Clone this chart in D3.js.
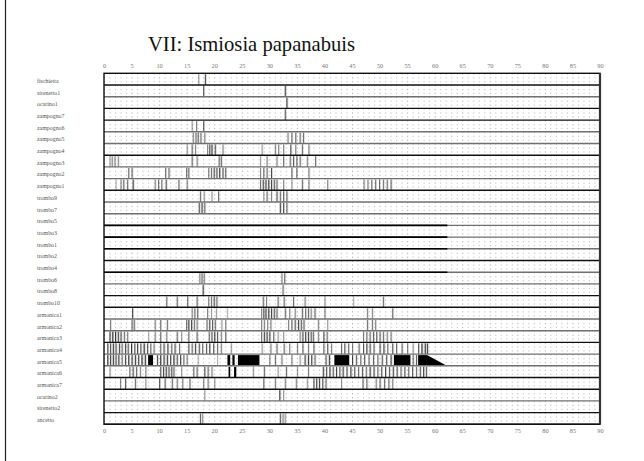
<!DOCTYPE html>
<html><head><meta charset="utf-8">
<script src="https://cdn.jsdelivr.net/npm/d3@7"></script>
<style>body{margin:0;background:#fff}svg{display:block}</style>
</head><body>
<svg id="c" width="644" height="461"></svg>
<script>
// ---------- data ----------
const title = "VII: Ismiosia papanabuis";
const tickLabels = [0,5,10,15,20,25,30,35,40,45,50,55,60,65,70,75,80,85,90];
const instruments = ["fischietta","sirenetto1","ocarino1","zampogno7","zampogno6","zampogno5","zampogno4","zampogno3","zampogno2","zampogno1","trombo9","trombo7","trombo5","trombo3","trombo1","trombo2","trombo4","trombo6","trombo8","trombo10","armonica1","armonica2","armonica3","armonica4","armonica5","armonica6","armonica7","ocarino2","sirenetto2","ancetto"];
// spikes: [time, level]
const fischietta = [[17.1,.4],[18.3,.8]];
const sirenetto1 = [[18.0,.7],[32.8,.8]];
const ocarino1 = [[33.1,.8]];
const zampogno7 = [[32.8,.7]];
const zampogno6 = [[15.9,.4],[16.7,.5],[18.0,.7]];
const zampogno5 = [[16.1,.5],[16.6,.6],[17.0,.6],[17.5,.6],[18.2,.5],[33.3,.5],[34.0,.6],[34.7,.6],[35.5,.6],[36.1,.6]];
const zampogno4 = [[15.0,.4],[15.9,.6],[16.5,.5],[18.7,.5],[19.1,.7],[19.5,.8],[20.1,.7],[21.5,.5],[28.6,.4],[31.0,.5],[31.6,.5],[32.5,.5],[33.8,.7],[34.7,.5],[35.9,.6],[37.1,.5]];
const zampogno3 = [[1.0,.4],[1.4,.5],[1.9,.5],[2.5,.5],[15.9,.6],[16.8,.5],[20.8,.6],[21.2,.6],[28.3,.4],[29.5,.5],[31.3,.5],[32.5,.6],[33.7,.6],[34.3,.7],[34.9,.6],[35.5,.6],[36.8,.5],[38.3,.6]];
const zampogno2 = [[4.4,.6],[5.0,.6],[11.1,.6],[11.7,.6],[14.9,.6],[15.3,.6],[18.9,.5],[19.4,.6],[19.9,.7],[20.4,.7],[20.9,.8],[21.5,.7],[22.0,.6],[28.3,.5],[28.9,.6],[29.5,.6],[30.3,.8],[34.0,.6],[34.9,.6],[37.1,.5]];
const zampogno1 = [[2.1,.3],[3.0,.5],[3.5,.6],[4.2,.6],[5.2,.8],[9.2,.5],[9.8,.6],[10.4,.6],[11.2,.7],[13.5,.6],[15.0,.5],[28.3,.6],[28.8,.8],[29.3,.8],[29.8,.8],[30.3,.8],[30.8,.7],[31.3,.6],[32.5,.5],[34.0,.4],[35.9,.6],[37.1,.5],[40.5,.5],[47.1,.5],[47.8,.5],[48.5,.6],[49.2,.6],[49.9,.6],[50.6,.6],[51.3,.6],[52.0,.6]];
const trombo9 = [[17.4,.6],[18.1,.4],[19.5,.4],[20.7,.6],[28.9,.4],[29.5,.6],[30.3,.5],[31.3,.7],[31.9,.6],[32.5,.7],[33.1,.6]];
const trombo7 = [[17.2,.7],[17.7,.8],[18.2,.6],[31.9,.8],[32.5,.8],[33.1,.6]];
const trombo5 = [], trombo3 = [], trombo1 = [], trombo2 = [], trombo4 = [];
const trombo6 = [[17.3,.5],[17.7,.6],[18.1,.5],[32.2,.5],[32.7,.6]];
const trombo8 = [[17.9,.8],[32.4,.6]];
const trombo10 = [[11.3,.6],[13.2,.6],[15.1,.6],[16.8,.6],[18.9,.5],[19.4,.6],[19.9,.7],[20.4,.6],[28.8,.6],[29.4,.5],[31.5,.6],[32.6,.6],[34.3,.6],[36.4,.5],[40.0,.4],[45.2,.3],[50.6,.6]];
const armonica1 = [[5.1,.8],[15.9,.5],[16.4,.6],[16.9,.6],[18.7,.5],[19.4,.4],[20.3,.4],[22.3,.3],[28.5,.5],[28.9,.7],[29.3,.8],[29.8,.8],[30.3,.8],[30.8,.7],[31.3,.6],[32.8,.6],[33.6,.5],[34.6,.5],[35.9,.6],[36.5,.6],[37.0,.6],[37.5,.5],[38.2,.6],[40.0,.5],[47.7,.5],[48.6,.5],[52.3,.6]];
const armonica2 = [[1.1,.5],[5.0,.6],[5.4,.6],[9.2,.5],[10.2,.6],[11.4,.6],[14.9,.6],[15.3,.8],[15.8,.8],[16.3,.6],[16.8,.5],[18.6,.6],[19.1,.7],[19.6,.7],[20.1,.6],[21.3,.4],[22.0,.5],[28.5,.5],[29.0,.5],[29.6,.5],[30.2,.5],[33.4,.5],[34.0,.6],[34.6,.7],[35.2,.8],[35.7,.7],[36.2,.6],[38.8,.5],[40.5,.4],[47.7,.6],[48.6,.6],[49.2,.5]];
const armonica3 = [[1.0,.8],[1.5,.9],[2.0,.9],[2.5,.8],[3.0,.7],[3.6,.6],[4.2,.5],[8.0,.3],[9.2,.5],[10.2,.6],[11.3,.5],[13.2,.6],[14.0,.4],[15.3,.6],[16.8,.6],[19.0,.6],[19.5,.7],[20.0,.8],[20.5,.7],[21.2,.5],[22.0,.6],[28.5,.6],[29.0,.8],[29.5,.8],[30.0,.7],[30.7,.6],[31.5,.4],[32.5,.4],[35.5,.5],[36.0,.7],[36.5,.8],[37.0,.8],[37.5,.7],[37.9,.6],[38.8,.5],[39.8,.7],[40.4,.6],[47.0,.5],[47.6,.6],[48.2,.6],[48.8,.7],[49.4,.7],[50.0,.6],[50.6,.6],[51.3,.5],[52.0,.5]];
const armonica4 = [[0.6,.8],[1.1,.7],[1.6,.9],[2.1,.7],[2.7,.8],[3.2,.6],[3.8,.8],[4.3,.7],[4.9,.9],[5.5,.7],[6.0,.8],[6.6,.7],[7.2,.9],[7.8,.7],[8.4,.6],[9.0,.5],[10.2,.6],[10.8,.7],[11.5,.8],[12.2,.6],[12.8,.7],[13.6,.6],[15.3,.7],[15.9,.6],[16.5,.8],[17.2,.7],[17.8,.6],[18.5,.7],[19.1,.8],[19.8,.7],[20.5,.6],[21.2,.5],[23.0,.4],[28.6,.4],[30.2,.5],[31.3,.6],[32.6,.6],[33.6,.5],[35.0,.5],[36.0,.6],[37.0,.5],[38.0,.6],[39.8,.6],[40.5,.7],[41.2,.5],[43.0,.6],[43.6,.7],[44.3,.6],[45.0,.5],[46.2,.6],[47.0,.7],[47.6,.8],[48.2,.7],[48.9,.6],[50.0,.7],[50.7,.8],[51.4,.6],[52.3,.7],[53.0,.6],[54.0,.6],[55.0,.5],[56.0,.4],[57.0,.7],[57.6,.9],[58.2,.9],[58.6,.8]];
const armonica5 = [[0.6,.9],[1.1,.8],[1.6,.9],[2.1,.7],[2.6,.8],[3.2,.6],[3.8,.8],[4.4,.9],[5.0,.8],[5.6,.9],[6.2,.8],[6.8,.9],[7.4,.9],[9.6,.8],[10.2,.9],[10.8,.8],[11.4,.9],[12.0,.8],[12.6,.9],[13.2,.7],[13.8,.8],[14.4,.6],[15.0,.5],[17.0,.3],[20.5,.3],[30.0,.5],[31.0,.6],[32.2,.5],[34.0,.5],[35.5,.4],[36.4,.8],[37.0,.9],[37.6,.8],[38.2,.6],[40.2,.7],[40.8,.9],[45.0,.8],[45.7,.7],[46.5,.6],[47.2,.7],[48.0,.6],[48.8,.7],[49.6,.6],[50.4,.7],[51.2,.7],[52.0,.8],[56.0,.6],[56.6,.7]];
const armonica6 = [[1.0,.4],[4.6,.6],[5.2,.7],[5.8,.6],[6.5,.5],[7.5,.5],[10.2,.7],[10.7,.8],[11.2,.8],[11.7,.7],[12.2,.7],[12.6,.6],[14.0,.4],[16.2,.6],[16.8,.6],[18.2,.7],[18.8,.6],[19.5,.5],[27.0,.4],[29.0,.6],[31.5,.4],[33.0,.6],[35.0,.4],[37.0,.5],[39.7,.8],[40.3,.7],[40.9,.8],[41.5,.7],[42.1,.8],[42.7,.7],[43.3,.8],[44.0,.7],[44.7,.8],[45.4,.7],[46.1,.6],[46.8,.7],[47.5,.6],[48.2,.8],[48.9,.7],[49.6,.6],[50.3,.7],[51.0,.8],[51.7,.7],[52.4,.8],[53.1,.7],[53.8,.6],[54.5,.7],[55.2,.6],[55.9,.7],[56.6,.6],[57.3,.7],[57.9,.8],[58.4,.7]];
const armonica7 = [[2.9,.5],[3.8,.7],[5.6,.6],[7.5,.4],[10.0,.7],[11.0,.6],[12.3,.6],[13.2,.5],[14.2,.5],[15.5,.6],[18.0,.5],[18.8,.5],[20.0,.4],[28.9,.6],[31.0,.5],[32.8,.5],[34.8,.5],[36.8,.4],[38.0,.7],[38.5,.8],[39.0,.8],[39.6,.7],[40.2,.6],[43.0,.4],[46.9,.6],[47.6,.6],[49.3,.5],[50.0,.6],[50.8,.6],[51.6,.6],[52.3,.5]];
const ocarino2 = [[18.2,.4],[31.8,.8],[32.5,.4]];
const sirenetto2 = [];
const ancetto = [[17.4,.7],[17.8,.4],[31.9,.7],[32.4,.5],[32.8,.4]];
// sustained (solid) blocks: [instrument, start, end]
const blocks = [["armonica5",8.0,8.9],["armonica5",22.4,22.9],["armonica5",23.3,23.7],["armonica5",24.3,28.2],["armonica5",41.8,44.5],["armonica5",52.6,55.6],["armonica5",57.0,58.6],["armonica6",22.6,22.9],["armonica6",23.6,24.0]];
// decaying tail: [instrument, start, end]
const tails = [["armonica5",58.6,62.2]];
// drone (black baseline) segments: [instrument, start, end]
const drones = [["trombo5",0,62.3],["trombo3",0,62.3],["trombo1",0,62.3],["trombo4",0,62.3]];
// row separator tone: k = dark, g = grey
const sepTone = ["k","g","k","k","g","g","k","g","g","k","g","g","g","g","g","k","g","g","k","k","g","g","k","g","g","k","k","g","k","k"];

const spikes = {fischietta,sirenetto1,ocarino1,zampogno7,zampogno6,zampogno5,zampogno4,zampogno3,zampogno2,zampogno1,trombo9,trombo7,trombo5,trombo3,trombo1,trombo2,trombo4,trombo6,trombo8,trombo10,armonica1,armonica2,armonica3,armonica4,armonica5,armonica6,armonica7,ocarino2,sirenetto2,ancetto};

// ---------- drawing ----------
const svg = d3.select("#c");
const serif = "Liberation Serif, DejaVu Serif, serif";
const x = d3.scaleLinear().domain([0,90]).range([104,600]);
const y = d3.scaleBand().domain(instruments).range([73.3,424.3]).paddingInner(0);
const bw = y.bandwidth();

// page edge
svg.append("line").attr("x1",5.5).attr("x2",5.5).attr("y1",0).attr("y2",461).attr("stroke","#222").attr("stroke-width",1.2);

svg.append("text").attr("x",148).attr("y",51).style("font-family",serif).style("font-size","20.6px").attr("fill","#111").text(title);

const defs = svg.append("defs");
const g1 = defs.append("linearGradient").attr("id","decay");
g1.append("stop").attr("offset","0").attr("stop-color","#000").attr("stop-opacity",1);
g1.append("stop").attr("offset","1").attr("stop-color","#000").attr("stop-opacity",0);

// grid
svg.append("g").selectAll("line").data(d3.range(0,91,1)).join("line")
  .attr("x1",d=>x(d)+0.5).attr("x2",d=>x(d)+0.5).attr("y1",y.range()[0]).attr("y2",y.range()[1])
  .attr("stroke",d=>d%5===0?"#aaa":"#c0c0c0").attr("stroke-width",0.9).attr("stroke-dasharray","1.3,2.6");

// spikes
const rowsG = svg.append("g");
instruments.forEach(name=>{
  const top = y(name), data = spikes[name];
  const g = rowsG.append("g");
  g.selectAll("rect").data(data).join("rect")
    .attr("x",d=>x(d[0])).attr("width",d=>x(d[0]+0.45)-x(d[0]))
    .attr("y",top+1).attr("height",bw-1)
    .attr("fill","url(#decay)").attr("fill-opacity",d=>d[1]*0.5);
  g.selectAll("line").data(data).join("line")
    .attr("x1",d=>x(d[0])+0.5).attr("x2",d=>x(d[0])+0.5)
    .attr("y1",top+1).attr("y2",top+bw)
    .attr("stroke","#000").attr("stroke-opacity",d=>d[1]*0.72).attr("stroke-width",1);
});
svg.append("g").selectAll("rect").data(blocks).join("rect")
  .attr("x",d=>x(d[1])).attr("width",d=>x(d[2])-x(d[1]))
  .attr("y",d=>y(d[0])+1).attr("height",bw-1).attr("fill","#000");
svg.append("g").selectAll("path").data(tails).join("path")
  .attr("d",d=>{const t=y(d[0])+1,b=y(d[0])+bw;return `M${x(d[1])},${t}L${x(d[2])},${b}L${x(d[1])},${b}Z`;})
  .attr("fill","#000");

// separators
svg.append("g").selectAll("line").data(instruments).join("line")
  .attr("x1",x(0)).attr("x2",x(90)).attr("y1",d=>y(d)+bw).attr("y2",d=>y(d)+bw)
  .attr("stroke",(d,i)=>sepTone[i]==="k"?"#111":"#707070").attr("stroke-width",1.4);
svg.append("g").selectAll("line").data(drones).join("line")
  .attr("x1",d=>x(d[1])).attr("x2",d=>x(d[2])).attr("y1",d=>y(d[0])+bw).attr("y2",d=>y(d[0])+bw)
  .attr("stroke","#000").attr("stroke-width",1.6);

// frame
svg.append("rect").attr("x",x(0)).attr("y",y.range()[0]).attr("width",x(90)-x(0)).attr("height",y.range()[1]-y.range()[0])
  .attr("fill","none").attr("stroke","#111").attr("stroke-width",1.4);
svg.append("line").attr("x1",x(90)).attr("x2",x(90)).attr("y1",y.range()[0]).attr("y2",y.range()[1]).attr("stroke","#333").attr("stroke-width",2.2);

// axes
const axT = d3.axisTop(x).tickValues(tickLabels).tickSize(0).tickPadding(0);
const axB = d3.axisBottom(x).tickValues(tickLabels).tickSize(0).tickPadding(0);
const gt = svg.append("g").attr("transform","translate(0,67.5)").call(axT);
const gb = svg.append("g").attr("transform","translate(0,429)").call(axB);
[gt,gb].forEach(g=>{g.attr("font-family",null).attr("font-size",null);g.select(".domain").remove();g.selectAll("text").style("font-family",serif).style("font-size","6.3px").attr("fill","#777");});

// labels
svg.append("g").selectAll("text").data(instruments).join("text")
  .attr("x",37).attr("y",d=>y(d)+bw-2.2).style("font-family",serif).style("font-size","5.9px").attr("fill","#555").text(d=>d);
</script>
</body></html>
